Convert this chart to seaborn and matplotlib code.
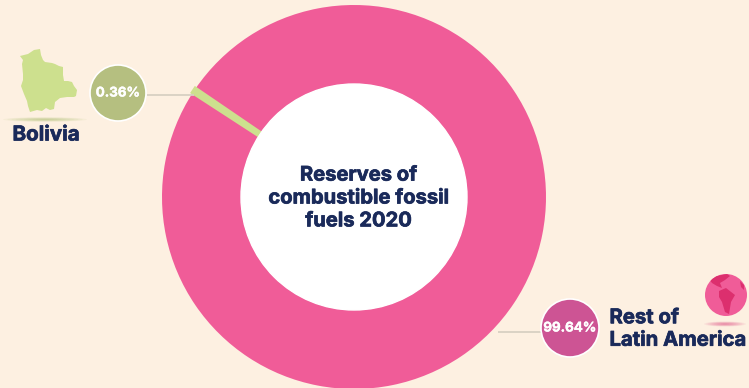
import matplotlib
matplotlib.use("Agg")
import matplotlib.pyplot as plt
import matplotlib.patheffects as pe
from matplotlib.patches import Circle, Ellipse, Polygon
import seaborn as sns

# Share of combustible fossil fuel reserves, 2020
regions = ["Bolivia", "Rest of\nLatin America"]
shares = [0.36, 99.64]
share_labels = ["0.36%", "99.64%"]
center_title = "Reserves of\ncombustible fossil\nfuels 2020"

BACKGROUND = "#fdf0e1"
NAVY = "#1a2a5a"
slice_colors = sns.color_palette(["#cde08e", "#f05c98"])
badge_colors = sns.color_palette(["#b5bf80", "#cd5494"])

sns.set_theme(style="white")
plt.rcParams["font.family"] = ["Inter", "DejaVu Sans"]

W, H = 749, 388
fig = plt.figure(figsize=(W / 100, H / 100), dpi=100, facecolor=BACKGROUND)

# Doughnut axes: a square placed in figure pixels
cx, cy, R = 354, 197, 192
pie_ax = fig.add_axes([(cx - R) / W, 1 - (cy + R) / H, 2 * R / W, 2 * R / H])
wedges, _ = pie_ax.pie(
    shares,
    colors=slice_colors,
    startangle=147.0,
    counterclock=False,
    radius=1,
    wedgeprops={"width": 1 - 113 / 192, "linewidth": 0},
)
wedges[1].set_zorder(1)
wedges[0].set_zorder(2)
wedges[0].set_edgecolor(slice_colors[0])
wedges[0].set_linewidth(3.0)
pie_ax.set_xlim(-1, 1)
pie_ax.set_ylim(-1, 1)
pie_ax.add_patch(Circle((0, 0), 113 / 192, color="white", zorder=3))
# Keep the thickened slice inside the outer rim
wedges[0].set_clip_path(Circle((0, 0), 1, transform=pie_ax.transData))
pie_ax.axis("off")

# Overlay in pixel coordinates for callouts and pictograms
ov = fig.add_axes([0, 0, 1, 1], facecolor="none")
ov.set_xlim(0, W)
ov.set_ylim(H, 0)
ov.axis("off")

ov.plot([147, 194], [95, 95], color="#d8d0c2", lw=1.3, zorder=1, solid_capstyle="butt")
ov.plot([498, 542], [332, 332], color="#d8d0c2", lw=1.3, zorder=1, solid_capstyle="butt")


def heavy(width, color):
    # Thickens the bold face to the weight used for the labels
    return [pe.withStroke(linewidth=width, foreground=color)]


badges = [(118, 93, 28), (570, 328, 29)]
for (bx, by, br), col, txt in zip(badges, badge_colors, share_labels):
    ov.add_patch(Circle((bx, by), br, facecolor=col, edgecolor="white", lw=1.2, zorder=2))
    ov.text(bx, by + 0.5, txt, color="white", fontsize=9.6, fontweight="bold",
            ha="center", va="center", zorder=3, path_effects=heavy(0.3, "white"))


# Soft ground shadows under the pictograms
def shadow(x, y, w, h, color):
    for k in range(10):
        f = 1 - k / 10
        ov.add_patch(Ellipse((x, y), w * f, h * f, facecolor=color, edgecolor="none",
                             alpha=0.08, zorder=1))


shadow(45, 119.5, 84, 4.5, "#a9bd68")
shadow(725, 324, 42, 5, "#e0457f")

# Outline of Bolivia
bolivia_outline = [
    (20, 56), (24, 55), (28, 54), (34, 50), (40, 49), (41, 55), (43, 60), (45, 62), (52, 63),
    (55, 64), (59, 66), (63, 67), (63, 75), (64, 81), (68, 81), (72, 82), (74, 86), (77, 90),
    (76, 96), (74, 97), (67, 97), (60, 98), (55, 102), (54, 109), (50, 110), (46, 108),
    (42, 111), (37, 110), (30, 112), (28, 106), (27, 101), (24, 94), (21, 86), (23, 80),
    (23, 74), (22, 64), (23, 60),
]
ov.add_patch(Polygon(bolivia_outline, closed=True, facecolor=slice_colors[0], edgecolor="none", zorder=2))

# Small globe centred on South America
gx, gy, gr = 726, 295, 21
globe = Circle((gx, gy), gr, facecolor="#f05c98", edgecolor="none", zorder=2)
ov.add_patch(globe)
land = [
    [(719, 291), (726, 288), (735, 295), (731, 302), (729, 314), (725, 312), (722, 302), (719, 297)],
    [(709, 279), (716, 276), (727, 274), (730, 276), (725, 280), (720, 283), (722, 288), (717, 286), (712, 283)],
    [(740, 281), (744, 285), (744, 290), (741, 287)],
]
for shape in land:
    patch = Polygon(shape, closed=True, facecolor="#dc2f6e", edgecolor="none", zorder=3)
    ov.add_patch(patch)
    patch.set_clip_path(globe)

# Labels
ov.text(46, 135.5, regions[0], color=NAVY, fontsize=14.8, fontweight="bold", ha="center", va="center",
        path_effects=heavy(0.5, NAVY))
ov.text(609.5, 329.5, regions[1], color=NAVY, fontsize=14.6, fontweight="bold", ha="left",
        va="center", linespacing=1.32, path_effects=heavy(0.5, NAVY))
ov.text(cx + 4.5, 198.5, center_title, color=NAVY, fontsize=14.5, fontweight="bold", ha="center",
        va="center", linespacing=1.35, zorder=5, path_effects=heavy(0.5, NAVY))

fig.savefig("out.png", dpi=100, facecolor=BACKGROUND)
